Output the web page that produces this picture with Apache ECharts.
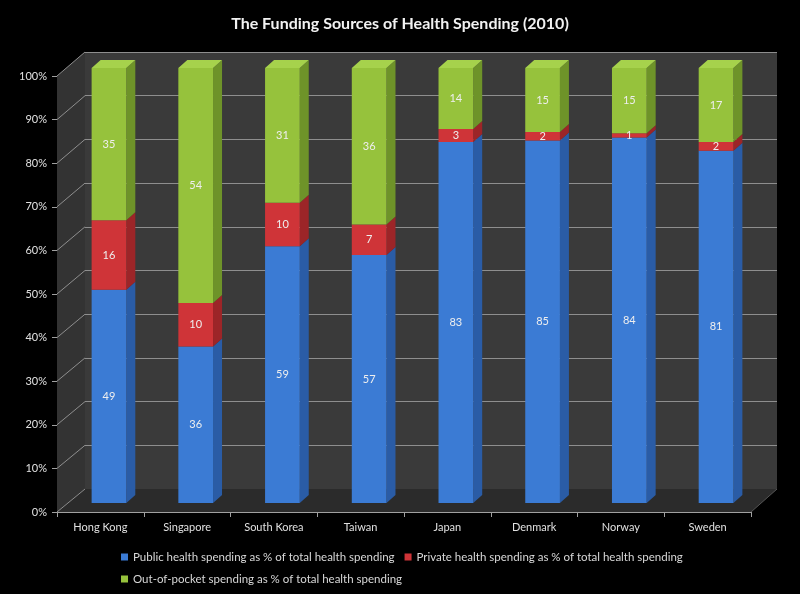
<!DOCTYPE html>
<html>
<head>
<meta charset="utf-8">
<script src="https://cdn.jsdelivr.net/npm/echarts@6/dist/echarts.min.js"></script>
<style>html,body{margin:0;padding:0;background:#000;}#c{width:800px;height:594px;}</style>
</head>
<body>
<div id="c"></div>
<script>
// ---- data ----
const categories = ['Hong Kong', 'Singapore', 'South Korea', 'Taiwan', 'Japan', 'Denmark', 'Norway', 'Sweden'];
const publicVals  = [49, 36, 59, 57, 83, 85, 84, 81];
const privateVals = [16, 10, 10, 7, 3, 2, 1, 2];
const oopVals     = [35, 54, 31, 36, 14, 15, 15, 17];
const seriesNames = [
  'Public health spending as % of total health spending',
  'Private health spending as % of total health spending',
  'Out-of-pocket spending as % of total health spending'
];
const yTicks = [0, 0.1, 0.2, 0.3, 0.4, 0.5, 0.6, 0.7, 0.8, 0.9, 1];

// ---- styling ----
const palette = [
  {front: '#3b7bd4', side: '#2a5ca6', top: '#4f8ee0'},
  {front: '#cf3438', side: '#9c2528', top: '#e04a4c'},
  {front: '#96c23c', side: '#6e9329', top: '#a6d24c'}
];
const FONT = 'Lato, "Open Sans", sans-serif';
const DX = 9, DY = 8;

const all = [publicVals, privateVals, oopVals];
function buildSeries(k) {
  const data = categories.map((c, i) => {
    const total = publicVals[i] + privateVals[i] + oopVals[i];
    let lo = 0;
    for (let j = 0; j < k; j++) lo += all[j][i] / total;
    const hi = lo + all[k][i] / total;
    return [i, lo, hi, all[k][i], k === 2 ? 1 : 0];
  });
  const col = palette[k];
  return {
    name: seriesNames[k],
    type: 'custom',
    xAxisIndex: 1,
    yAxisIndex: 1,
    z: 3,
    itemStyle: {color: col.front},
    dimensions: ['cat', 'lo', 'hi', 'raw', 'top'],
    encode: {x: 0, y: [1, 2]},
    data: data,
    renderItem: function (params, api) {
      const i = api.value(0), lo = api.value(1), hi = api.value(2);
      const raw = api.value(3), isTop = api.value(4);
      const p0 = api.coord([i, lo]), p1 = api.coord([i, hi]);
      const bw = api.size([1, 0])[0] * 0.4;
      const x = p0[0] - bw / 2, y0 = p0[1], y1 = p1[1];
      const children = [
        {type: 'polygon', shape: {points: [[x + bw, y1], [x + bw + DX, y1 - DY], [x + bw + DX, y0 - DY], [x + bw, y0]]},
         style: {fill: col.side}},
        {type: 'rect', shape: {x: x, y: y1, width: bw, height: y0 - y1},
         style: {fill: col.front}}
      ];
      if (isTop) {
        children.push({type: 'polygon', shape: {points: [[x, y1], [x + DX, y1 - DY], [x + bw + DX, y1 - DY], [x + bw, y1]]},
          style: {fill: col.top}});
      }
      children.push({type: 'text', z2: 10, style: {text: String(raw), x: p0[0], y: (y0 + y1) / 2,
        fill: '#eeeeee', font: '11px ' + FONT, align: 'center', verticalAlign: 'middle'}});
      return {type: 'group', children: children};
    }
  };
}

// ---- layout ----
const BACK = {left: 85, right: 23, top: 52, bottom: 105};
const BARS = {left: 65.6, right: 40.6, top: 68, bottom: 91};
const FRONT = {left: 57, right: 49, top: 76, bottom: 82};
const W = 800, H = 594;

const chart = echarts.init(document.getElementById('c'), null, {renderer: 'canvas'});
const option = {
  backgroundColor: '#000000',
  animation: false,
  title: {
    text: 'The Funding Sources of Health Spending (2010)',
    left: 'center', top: 11,
    textStyle: {color: '#f2f2f2', fontSize: 16, fontWeight: 'bold', fontFamily: FONT}
  },
  legend: {
    data: seriesNames,
    left: 116, top: 546, width: 640,
    itemWidth: 7, itemHeight: 7, itemGap: 10,
    icon: 'rect',
    textStyle: {color: '#d8d8d8', fontSize: 11.5, fontFamily: FONT}
  },
  grid: [
    Object.assign({show: true, backgroundColor: '#3a3a3a', borderWidth: 0}, BACK),
    Object.assign({}, BARS),
    Object.assign({}, FRONT)
  ],
  xAxis: [
    {type: 'category', gridIndex: 0, data: categories, show: false},
    {type: 'category', gridIndex: 1, data: categories, show: false},
    {type: 'category', gridIndex: 2, data: categories,
     axisLine: {lineStyle: {color: '#a0a0a0'}},
     axisTick: {show: true, length: 5, lineStyle: {color: '#a0a0a0'}},
     axisLabel: {color: '#e0e0e0', fontSize: 11, fontFamily: FONT, margin: 10}}
  ],
  yAxis: [
    {type: 'value', gridIndex: 0, min: 0, max: 1, interval: 0.1,
     axisLine: {show: false}, axisTick: {show: false}, axisLabel: {show: false},
     splitLine: {lineStyle: {color: '#8e8e8e', width: 1}}},
    {type: 'value', gridIndex: 1, min: 0, max: 1, show: false, splitLine: {show: false}},
    {type: 'value', gridIndex: 2, min: 0, max: 1, interval: 0.1,
     axisLine: {show: true, lineStyle: {color: '#a0a0a0'}},
     axisTick: {show: true, length: 5, lineStyle: {color: '#a0a0a0'}},
     splitLine: {show: false},
     axisLabel: {color: '#e0e0e0', fontSize: 11, fontFamily: FONT, margin: 10,
       formatter: v => Math.round(v * 100) + '%'}}
  ],
  series: [buildSeries(0), buildSeries(1), buildSeries(2)]
};
chart.setOption(option);

// side wall, floor and diagonal grid lines derived from the axes
const fl = FRONT.left, fr = W - FRONT.right, bl = BACK.left, br = W - BACK.right;
const fy0 = chart.convertToPixel({yAxisIndex: 2}, 0), fy1 = chart.convertToPixel({yAxisIndex: 2}, 1);
const by0 = chart.convertToPixel({yAxisIndex: 0}, 0), by1 = chart.convertToPixel({yAxisIndex: 0}, 1);
const graphics = [
  {type: 'polygon', z: 1, shape: {points: [[fl, fy1], [bl, by1], [bl, by0], [fl, fy0]]}, style: {fill: '#333333'}},
  {type: 'polygon', z: 1, shape: {points: [[fl, fy0], [bl, by0], [br, by0], [fr, fy0]]}, style: {fill: '#2b2b2b'}},
  {type: 'line', z: 1, shape: {x1: fr, y1: fy0, x2: br, y2: by0}, style: {stroke: '#555555', lineWidth: 1}}
];
yTicks.forEach(t => {
  const a = chart.convertToPixel({yAxisIndex: 2}, t);
  const b = chart.convertToPixel({yAxisIndex: 0}, t);
  graphics.push({type: 'line', z: 1, shape: {x1: fl, y1: a, x2: bl, y2: b}, style: {stroke: '#8e8e8e', lineWidth: 1}});
});
chart.setOption({graphic: graphics});
</script>
</body>
</html>
